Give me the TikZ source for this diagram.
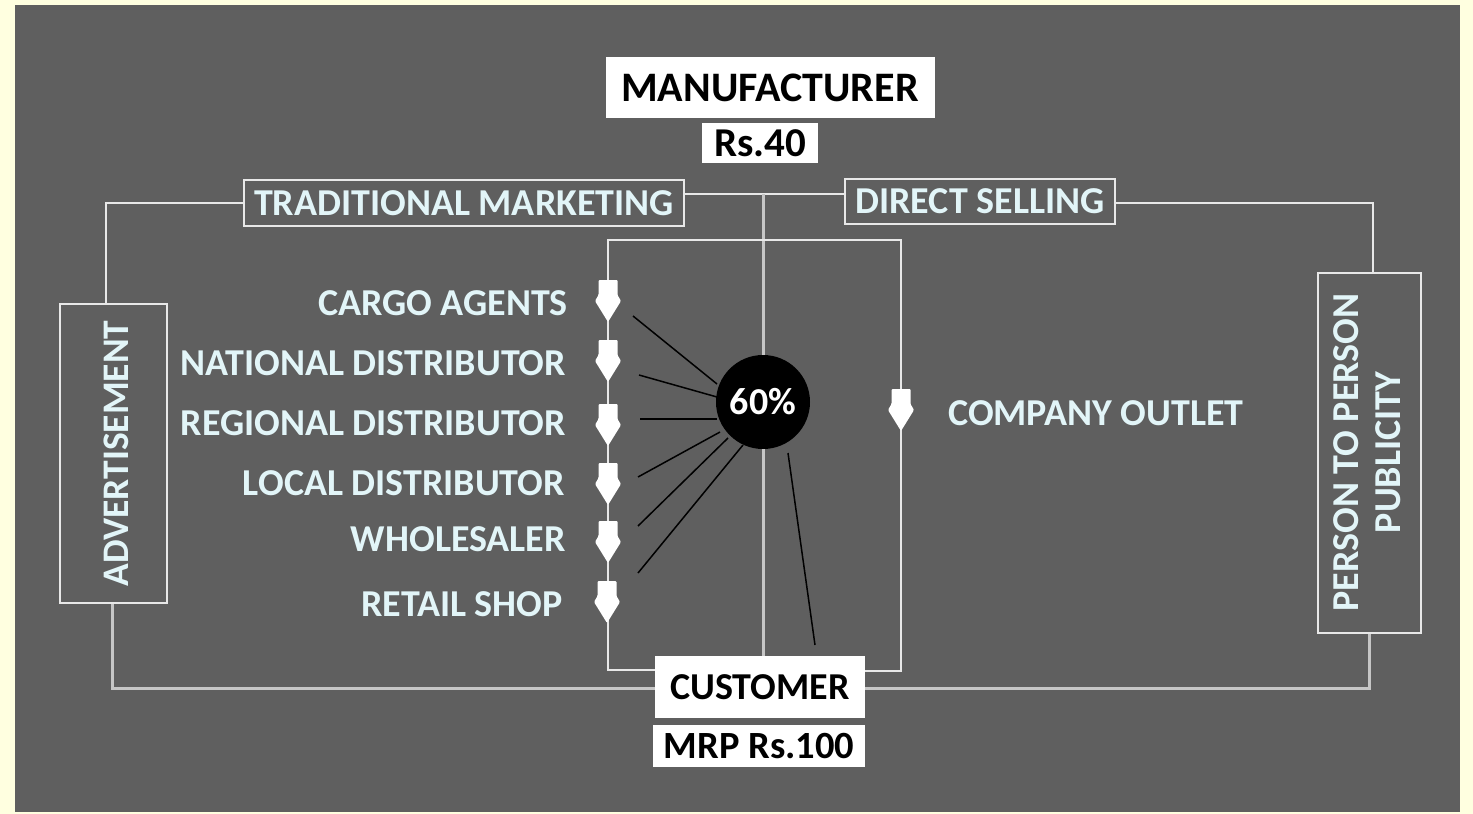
\documentclass[tikz,border=0pt]{standalone}
\usepackage{fontspec}
\setmainfont{Carlito}
\definecolor{cream}{HTML}{FFFFE0}
\definecolor{panel}{HTML}{5F5F5F}
\definecolor{wline}{HTML}{E8E8E8}
\definecolor{gline}{HTML}{C6C6C6}
\definecolor{ltxt}{HTML}{E2F5F8}
\pgfdeclarelayer{bg}
\pgfdeclarelayer{lines}
\pgfsetlayers{bg,lines,main}
\newcommand{\fsz}[1]{\bfseries\fontsize{#1}{#1}\selectfont}
\tikzset{
  bigfont/.style={font=\fsz{38}},
  wbox/.style={bigfont, fill=white, text=black, inner sep=0pt},
  obox/.style={bigfont, draw=wline, line width=2pt, text=ltxt, inner sep=0pt},
  lbl/.style={bigfont, text=ltxt, inner sep=0pt},
  wl/.style={draw=wline, line width=2pt},
  tl/.style={draw=wline, line width=1.6pt},
  gl/.style={draw=gline, line width=3pt},
  bl/.style={draw=black, line width=1.5pt},
  darr/.pic={
    \fill[white, rounded corners=1pt] (-9.5,-21) -- (9.5,-21) -- (9.5,-6) -- (13,0) -- (0,21)
      -- (-13,0) -- (-9.5,-6) -- cycle;
    \coordinate (-c) at (0,0);
  },
}
\begin{document}
\begin{tikzpicture}[x=1pt,y=-1pt]
\begin{pgfonlayer}{bg}
\fill[cream] (0,0) rectangle (1473,814);
\fill[panel] (15,5) rectangle (1460,812);
\end{pgfonlayer}
\useasboundingbox (0,0) rectangle (1473,814);

% boxes
\node[wbox, font=\fsz{42}, minimum width=329pt, minimum height=61pt] (man) at (770,87.5) {MANUFACTURER};
\node[wbox, font=\fsz{41}, minimum width=116pt, minimum height=40pt] (rs) at (760,143) {Rs.40};
\node[obox, minimum width=440pt, minimum height=46pt] (trad) at (464,203) {TRADITIONAL MARKETING};
\node[obox, minimum width=270pt, minimum height=45pt] (direct) at (980,201.5) {DIRECT SELLING};
\node[obox, minimum width=107pt, minimum height=299pt] (adv) at (113.5,453.5) {};
\node[lbl, font=\fsz{37.5}, rotate=90] (advt) at (116,453.5) {ADVERTISEMENT};
\node[obox, minimum width=103pt, minimum height=360pt] (pers) at (1369.5,452.5) {};
\node[lbl, rotate=90, align=center, font=\fsz{38}] (perst) at (1367,452.5) {PERSON TO PERSON\\[4pt]PUBLICITY};
\node[wbox, minimum width=210pt, minimum height=62pt] (cust) at (760,687) {CUSTOMER};
\node[wbox, font=\fsz{38.5}, minimum width=212pt, minimum height=42pt] (mrp) at (759,746) {MRP Rs.100};

% labels
\node[lbl, anchor=east] (t1) at (568,303) {CARGO AGENTS};
\node[lbl, anchor=east] (t2) at (566,363) {NATIONAL DISTRIBUTOR};
\node[lbl, anchor=east] (t3) at (566,423) {REGIONAL DISTRIBUTOR};
\node[lbl, anchor=east] (t4) at (565,483) {LOCAL DISTRIBUTOR};
\node[lbl, anchor=east] (t5) at (566,539) {WHOLESALER};
\node[lbl, anchor=east] (t6) at (563,604) {RETAIL SHOP};
\node[lbl, anchor=west] (t7) at (948,413) {COMPANY OUTLET};

% coordinates
\coordinate (j) at (763,194);
\coordinate (lc) at (106,203);
\coordinate (rc) at (1373,203);
\coordinate (blc) at (112,688);
\coordinate (brc) at (1369,688);
\coordinate (itl) at (608,240);
\coordinate (itr) at (901,240);
\coordinate (ibl) at (608,670);
\coordinate (ibr) at (901,671);

\begin{pgfonlayer}{lines}
\draw[wl] (trad.east |- j) -- (direct.west |- j);
\draw[gl] (j) -- (j |- cust.north);
\draw[wl] (trad.west) -- (lc) -- (lc |- adv.north);
\draw[wl] (direct.east |- rc) -- (rc) -- (rc |- pers.north);
\draw[gl] (blc |- adv.south) -- (blc) -- (blc -| cust.west);
\draw[gl] (cust.east |- brc) -- (brc) -- (brc |- pers.south);
\draw[tl] (ibl -| cust.west) -- (ibl) -- (itl) -- (itr) -- (ibr) -- (ibr -| cust.east);
\end{pgfonlayer}

% arrows
\pic (a1) at (608,301) {darr};
\pic (a2) at (608,361) {darr};
\pic (a3) at (608,425) {darr};
\pic (a4) at (608,484) {darr};
\pic (a5) at (608,542) {darr};
\pic (a6) at (607,602) {darr};
\pic (a7) at (901,410) {darr};

% circle
\node[circle, fill=black, text=white, minimum size=94pt, inner sep=0pt,
  font=\fsz{38}] (c) at (763,402) {60\%};

% black lines
\coordinate (p1a) at (633,316); \coordinate (p1b) at (717,384);
\coordinate (p2a) at (639,375); \coordinate (p2b) at (717,397);
\coordinate (p3a) at (640,419); \coordinate (p3b) at (717,419);
\coordinate (p4a) at (638,477); \coordinate (p4b) at (720,432);
\coordinate (p5a) at (638,526); \coordinate (p5b) at (728,438);
\coordinate (p6a) at (638,573); \coordinate (p6b) at (743,445);
\coordinate (p7a) at (788,453); \coordinate (p7b) at (815,645);
\draw[bl] (p1a) -- (p1b);
\draw[bl] (p2a) -- (p2b);
\draw[bl] (p3a) -- (p3b);
\draw[bl] (p4a) -- (p4b);
\draw[bl] (p5a) -- (p5b);
\draw[bl] (p6a) -- (p6b);
\draw[bl] (p7a) -- (p7b);
\end{tikzpicture}
\end{document}
